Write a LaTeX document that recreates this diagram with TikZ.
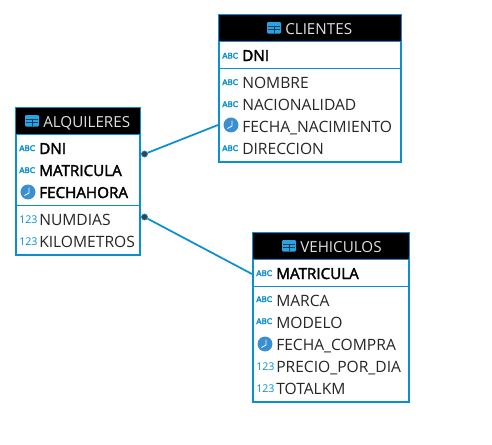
\documentclass[tikz,border=0pt]{standalone}
\usepackage{fontspec}
\setmainfont{Open Sans}
\newfontfamily\keyfont{Open Sans}[FakeBold=2.2]
\newfontfamily\iconfont{DejaVu Sans}[FakeBold=3]
\definecolor{erblue}{HTML}{0A8FD0}
\definecolor{clockblue}{HTML}{3A8FCF}
\definecolor{tblblue}{HTML}{2BA3E0}
\definecolor{rowtext}{HTML}{262626}
\tikzset{
  x=0.75pt,y=-0.75pt,
  tablebox/.style={draw=erblue,line width=1.8pt,fill=white,rectangle,inner sep=0pt,outer sep=0pt,anchor=north west},
  headband/.style={fill=black,draw=none},
  sepline/.style={draw=erblue,line width=0.75pt},
  headtext/.style={text=white!88!black,font=\fontsize{11.4pt}{12pt}\selectfont,anchor=base west,inner sep=0pt},
  rowlabel/.style={text=rowtext,font=\fontsize{11.7pt}{12pt}\selectfont,anchor=base west,inner sep=0pt},
  keylabel/.style={text=black,font=\keyfont\fontsize{11.4pt}{12pt}\selectfont,anchor=base west,inner sep=0pt},
  abcicon/.style={text=erblue,font=\iconfont\fontsize{5.8pt}{7pt}\selectfont,anchor=base west,inner sep=0pt},
  numicon/.style={text=erblue,font=\fontsize{8pt}{8pt}\selectfont,anchor=base west,inner sep=0pt},
  clockdisc/.style={circle,fill=clockblue,draw=none,minimum size=11.2pt,inner sep=0pt},
  relline/.style={draw=erblue,line width=1.3pt},
  reldot/.style={circle,fill=black!75,draw=erblue,line width=0.5pt,minimum size=4.6pt,inner sep=0pt},
}
\newcommand{\tblicon}[2]{%
  \fill[tblblue,rounded corners=0.8pt] (#1-7,#2-6) rectangle (#1+7,#2+5.5);
  \draw[black!60!tblblue,line width=0.45pt] (#1-6,#2-1.5) -- (#1+6,#2-1.5) (#1-6,#2+1.5) -- (#1+6,#2+1.5) (#1,#2-1.5) -- (#1,#2+5);
}
\newcommand{\clockicon}[3]{%
  \node[clockdisc] (#1) at (#2,#3) {};
  \draw[white,line width=0.6pt] (#2+1,#3-4.5) -- (#2+1,#3+1) -- (#2-3.5,#3+3.5);
}
\begin{document}
\begin{tikzpicture}
\useasboundingbox (0,0) rectangle (492,444);
\fill[white] (0,0) rectangle (492,444);

% CLIENTES
\node[tablebox,minimum width=136.5pt,minimum height=110.25pt] (cli) at (219,15) {};
\fill[headband] (219,15) rectangle (401,41);
\draw[sepline] (219,68) -- (401,68);
\draw[sepline] (219,41.5) -- (401,41.5);
\tblicon{274}{28}
\node[headtext] (clihead) at (285,34) {CLIENTES};
\node[abcicon] (cli1i) at (222,58.5) {ABC};
\node[keylabel] (cli1) at (242,61) {DNI};
\node[abcicon] (cli2i) at (222,85) {ABC};
\node[rowlabel] (cli2) at (242,88) {NOMBRE};
\node[abcicon] (cli3i) at (222,107) {ABC};
\node[rowlabel] (cli3) at (242,110) {NACIONALIDAD};
\clockicon{cli4i}{231}{125}
\node[rowlabel] (cli4) at (242,132) {FECHA\_NACIMIENTO};
\node[abcicon] (cli5i) at (222,151) {ABC};
\node[rowlabel] (cli5) at (242,154) {DIRECCION};

% ALQUILERES
\node[tablebox,minimum width=93pt,minimum height=110.25pt] (alq) at (16,108) {};
\fill[headband] (16,108) rectangle (140,134);
\draw[sepline] (16,134.5) -- (140,134.5);
\draw[sepline] (16,205) -- (140,205);
\tblicon{32}{121}
\node[headtext] (alqhead) at (43,127) {ALQUILERES};
\node[abcicon] (alq1i) at (19,151) {ABC};
\node[keylabel] (alq1) at (39,154) {DNI};
\node[abcicon] (alq2i) at (19,173) {ABC};
\node[keylabel] (alq2) at (39,176) {MATRICULA};
\clockicon{alq3i}{28}{192}
\node[keylabel] (alq3) at (39,198) {FECHAHORA};
\node[numicon] (alq4i) at (19,223) {123};
\node[rowlabel] (alq4) at (39,225) {NUMDIAS};
\node[numicon] (alq5i) at (19,245) {123};
\node[rowlabel] (alq5) at (39,247) {KILOMETROS};

% VEHICULOS
\node[tablebox,minimum width=117pt,minimum height=126.75pt] (veh) at (253,233) {};
\fill[headband] (253,233) rectangle (409,259);
\draw[sepline] (253,259.5) -- (409,259.5);
\draw[sepline] (253,286) -- (409,286);
\tblicon{289}{246}
\node[headtext] (vehhead) at (300,252) {VEHICULOS};
\node[abcicon] (veh1i) at (256,276) {ABC};
\node[keylabel] (veh1) at (276,279) {MATRICULA};
\node[abcicon] (veh2i) at (256,302) {ABC};
\node[rowlabel] (veh2) at (276,306) {MARCA};
\node[abcicon] (veh3i) at (256,324) {ABC};
\node[rowlabel] (veh3) at (276,328) {MODELO};
\clockicon{veh4i}{265}{344}
\node[rowlabel] (veh4) at (276,350) {FECHA\_COMPRA};
\node[numicon] (veh5i) at (256,370) {123};
\node[rowlabel] (veh5) at (276,372) {PRECIO\_POR\_DIA};
\node[numicon] (veh6i) at (256,392) {123};
\node[rowlabel] (veh6) at (276,394) {TOTALKM};

% connectors
\node[reldot] (d1) at (144.5,154) {};
\node[reldot] (d2) at (144.5,217) {};
\coordinate (c1) at (218,125);
\coordinate (c2) at (252,274);
\draw[relline] (d1) -- (c1);
\draw[relline] (d2) -- (c2);
\end{tikzpicture}
\end{document}
